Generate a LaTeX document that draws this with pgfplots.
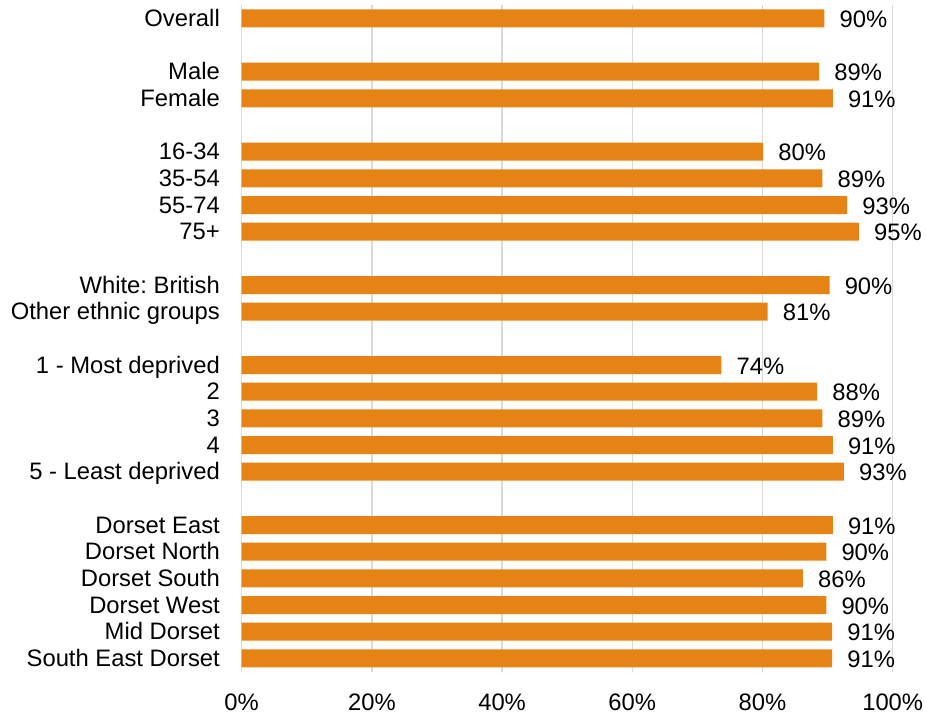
\documentclass[border=0pt]{standalone}
\usepackage{fontspec}
\setmainfont{Liberation Sans}
\usepackage{pgfplots}
\pgfplotsset{compat=1.18}
\usepackage{pgfplotstable}
\definecolor{barc}{RGB}{230,131,21}
\definecolor{gridc}{RGB}{217,217,217}
\pgfplotstableread{
i v l
24 89.5 90
22 88.7 89
21 90.8 91
19 80.1 80
18 89.2 89
17 93.0 93
16 94.8 95
14 90.3 90
13 80.8 81
11 73.7 74
10 88.4 88
9 89.2 89
8 90.8 91
7 92.5 93
5 90.8 91
4 89.8 90
3 86.2 86
2 89.8 90
1 90.7 91
0 90.7 91
}\datatable
\begin{document}
\frenchspacing
\begin{tikzpicture}
\begin{axis}[
  scale only axis, width=651pt, height=666.7pt,
  xbar, bar width=18pt,
  xmin=0, xmax=100, ymin=-0.5, ymax=24.5,
  axis line style={draw=none},
  xtick={0,20,40,60,80,100},
  xticklabels={0\%,20\%,40\%,60\%,80\%,100\%},
  xmajorgrids, grid style={gridc, line width=1.5pt},
  major tick length=0pt,
  ytick={0,1,2,3,4,5,7,8,9,10,11,13,14,16,17,18,19,21,22,24},
  yticklabels={South East Dorset,Mid Dorset,Dorset West,Dorset South,Dorset North,Dorset East,5 - Least deprived,4,3,2,1 - Most deprived,Other ethnic groups,White: British,75+,55-74,35-54,16-34,Female,Male,Overall},
  tick label style={font=\fontsize{23.8}{28}\selectfont},
  yticklabel style={anchor=base east, inner sep=0pt, xshift=-21.7pt, yshift=-8.3pt},
  xticklabel style={anchor=base, inner sep=0pt, yshift=-38.7pt},
  clip=false,
  point meta=explicit symbolic,
  nodes near coords={\pgfplotspointmeta\%},
  nodes near coords style={anchor=base west, inner sep=0pt, xshift=15pt, yshift=-9pt, font=\fontsize{23.8}{28}\selectfont, text=black},
]
\addplot[fill=barc, draw=none] table[x=v, y=i, meta=l] {\datatable};
\end{axis}
\pgfresetboundingbox
\path[use as bounding box] ([xshift=-241.7pt,yshift=-46pt]current axis.south west) rectangle ([xshift=33.3pt,yshift=5pt]current axis.north east);
\end{tikzpicture}
\end{document}
